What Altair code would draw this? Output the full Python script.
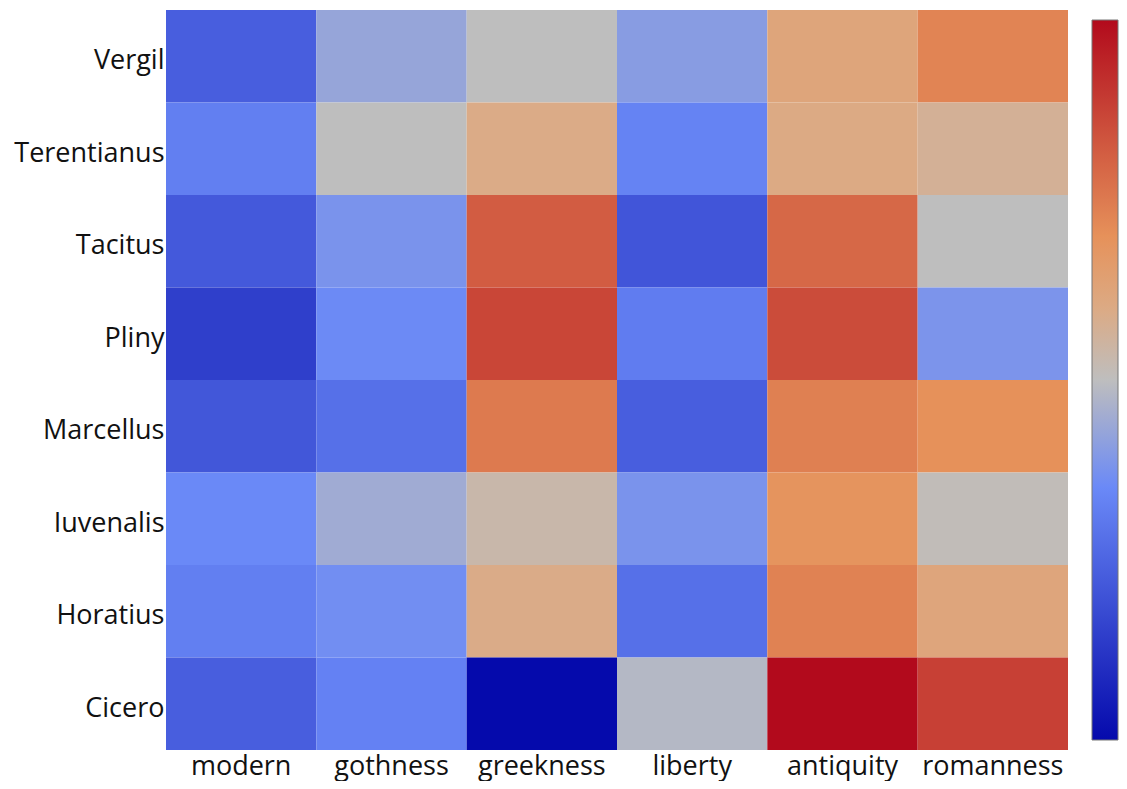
import altair as alt
import pandas as pd

authors = ["Vergil", "Terentianus", "Tacitus", "Pliny", "Marcellus", "Iuvenalis", "Horatius", "Cicero"]
features = ["modern", "gothness", "greekness", "liberty", "antiquity", "romanness"]

# values per feature, in the order of `authors` (normalised 0..1)
modern = [0.232, 0.322, 0.218, 0.146, 0.211, 0.350, 0.322, 0.232]
gothness = [0.429, 0.500, 0.379, 0.354, 0.281, 0.446, 0.364, 0.329]
greekness = [0.500, 0.595, 0.818, 0.867, 0.751, 0.534, 0.593, 0.000]
liberty = [0.404, 0.333, 0.208, 0.315, 0.232, 0.379, 0.281, 0.482]
antiquity = [0.621, 0.600, 0.791, 0.853, 0.738, 0.690, 0.733, 1.000]
romanness = [0.729, 0.569, 0.500, 0.382, 0.700, 0.510, 0.619, 0.880]

series = {
    "modern": modern,
    "gothness": gothness,
    "greekness": greekness,
    "liberty": liberty,
    "antiquity": antiquity,
    "romanness": romanness,
}

rows = []
for f in features:
    for a, v in zip(authors, series[f]):
        rows.append({"feature": f, "author": a, "value": v})
df = pd.DataFrame(rows)

stops = [0, 0.35, 0.5, 0.6, 0.7, 1]
stop_colors = ["rgb(5,10,172)", "rgb(106,137,247)", "rgb(190,190,190)",
               "rgb(220,170,132)", "rgb(230,145,90)", "rgb(178,10,28)"]

FONT = "Open Sans"

chart = alt.Chart(df).mark_rect().encode(
    x=alt.X("feature:N", sort=features, title=None,
            axis=alt.Axis(labelAngle=0, ticks=False, domain=False, grid=False,
                          labelFontSize=27, labelFont=FONT, labelColor="#111",
                          labelPadding=3)),
    y=alt.Y("author:N", sort=authors, title=None,
            axis=alt.Axis(ticks=False, domain=False, grid=False,
                          labelFontSize=27, labelFont=FONT, labelColor="#111",
                          labelPadding=2, labelOffset=5)),
    color=alt.Color("value:Q",
                    scale=alt.Scale(domain=stops, range=stop_colors, interpolate="rgb"),
                    legend=alt.Legend(orient="none", legendX=926, legendY=10,
                                      direction="vertical", title=None,
                                      gradientLength=720, gradientThickness=26,
                                      gradientStrokeColor="#777", gradientStrokeWidth=1,
                                      labelExpr="''", labelFontSize=1)),
).properties(
    width=902, height=740,
    padding={"left": 158, "top": 2, "right": 51, "bottom": 31},
    autosize=alt.AutoSizeParams(type="none"),
).configure_view(strokeWidth=0)

chart.save("out.html", embed_options={"renderer": "svg", "actions": False})
